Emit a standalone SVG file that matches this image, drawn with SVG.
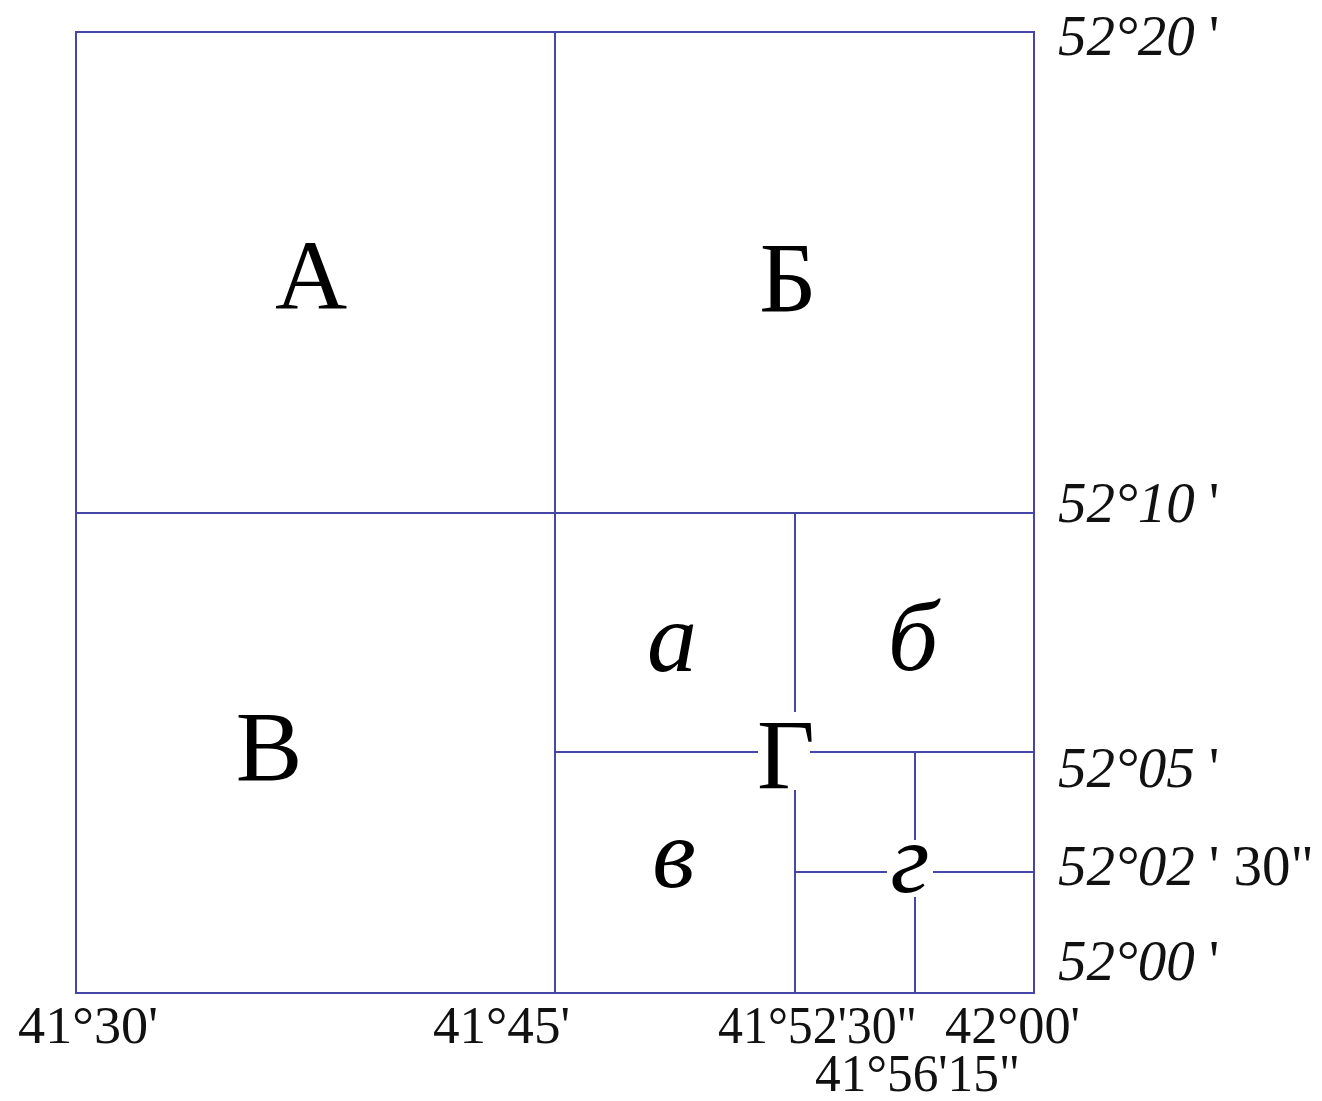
<svg xmlns="http://www.w3.org/2000/svg" width="1322" height="1101" viewBox="0 0 1322 1101">
<style>
.ln{stroke:#4646a8;stroke-width:2;fill:none}
.big{font-family:"Liberation Serif",serif;font-size:100px;fill:#000;text-anchor:middle}
.it{font-style:italic}
.lat{font-family:"Liberation Serif",serif;font-size:57px;font-style:italic;fill:#111}
.lon{font-family:"Liberation Serif",serif;font-size:53px;fill:#111}
.up{font-style:normal}
</style>
<rect width="1322" height="1101" fill="#fff"/>
<g id="grid">
<rect class="ln" x="76" y="32" width="958" height="961"/>
<path class="ln" d="M555 32V993M76 513H1034M795 513V712M795 790V993M555 752H758M810 752H1034M915 752V840M915 897V993M795 872H887M933 872H1034"/>
</g>
<g id="sheets">
<text class="big" x="311" y="309">А</text>
<text class="big" x="788" y="311">Б</text>
<text class="big" x="269" y="780">В</text>
<text class="big" x="786" y="788">Г</text>
<text class="big it" x="672" y="671">а</text>
<text class="big it" x="913" y="670">б</text>
<text class="big it" x="674" y="887">в</text>
<text class="big it" x="910" y="892">г</text>
</g>
<g id="latitudes">
<text class="lat" x="1058" y="55">52°20 <tspan class="up">'</tspan></text>
<text class="lat" x="1058" y="522">52°10 <tspan class="up">'</tspan></text>
<text class="lat" x="1058" y="787">52°05 <tspan class="up">'</tspan></text>
<text class="lat" x="1058" y="885">52°02 <tspan class="up">' 30"</tspan></text>
<text class="lat" x="1058" y="980">52°00 <tspan class="up">'</tspan></text>
</g>
<g id="longitudes">
<text class="lon" x="18" y="1043" textLength="140" lengthAdjust="spacingAndGlyphs">41°30'</text>
<text class="lon" x="433" y="1043" textLength="137" lengthAdjust="spacingAndGlyphs">41°45'</text>
<text class="lon" x="718" y="1043" textLength="199" lengthAdjust="spacingAndGlyphs">41°52'30"</text>
<text class="lon" x="945" y="1043" textLength="135" lengthAdjust="spacingAndGlyphs">42°00'</text>
<text class="lon" x="815" y="1091" textLength="205" lengthAdjust="spacingAndGlyphs">41°56'15"</text>
</g>
</svg>
